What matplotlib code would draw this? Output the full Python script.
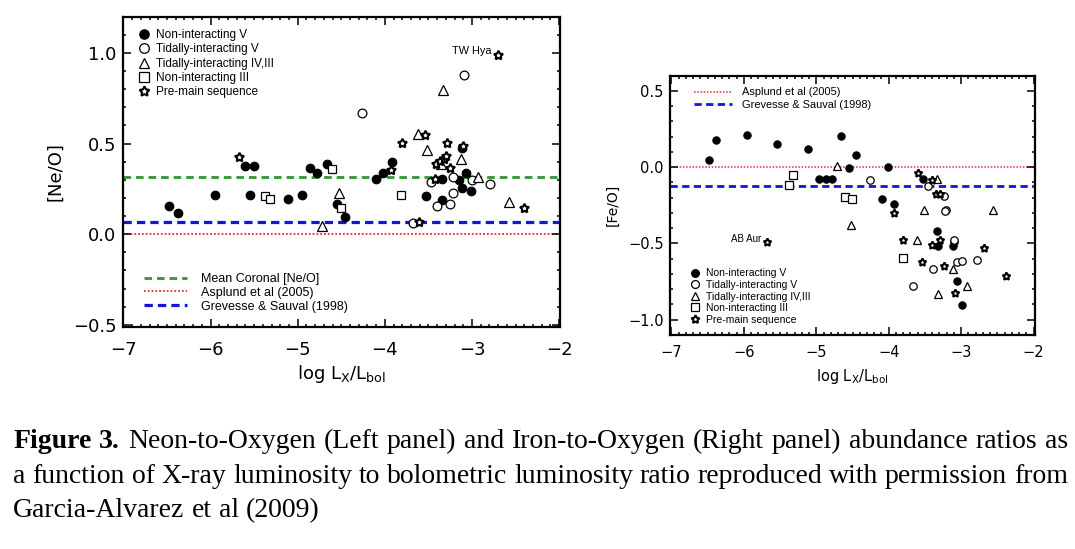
# Ne/O and Fe/O versus log Lx/Lbol, two panels plus caption.

import numpy as np
import matplotlib
matplotlib.use('Agg')
import matplotlib.pyplot as plt
from matplotlib.lines import Line2D
from matplotlib.ticker import MultipleLocator, FuncFormatter

# ---- left panel: [Ne/O] ----
ne_nonint_v_x = [-6.474, -6.374, -5.944, -5.604, -5.505, -5.543, -5.116, -4.952, -4.857, -4.784,
                 -4.666, -4.551, -4.460, -4.098, -4.022, -3.922, -3.531, -3.342, -3.342, -3.110,
                 -3.068, -3.144, -3.114, -3.010]
ne_nonint_v_y = [0.157, 0.117, 0.217, 0.376, 0.376, 0.217, 0.196, 0.217, 0.367, 0.338,
                 0.387, 0.168, 0.097, 0.307, 0.339, 0.396, 0.208, 0.305, 0.186, 0.478,
                 0.339, 0.300, 0.257, 0.239]
ne_tidal_v_x = [-4.260, -3.098, -3.470, -3.219, -2.999, -2.790, -3.219, -3.403, -3.250, -3.678]
ne_tidal_v_y = [0.666, 0.877, 0.287, 0.318, 0.300, 0.278, 0.227, 0.157, 0.167, 0.059]
ne_tidal_iv_x = [-3.335, -3.625, -3.519, -3.354, -3.132, -2.927, -2.580, -4.528, -4.720]
ne_tidal_iv_y = [0.797, 0.555, 0.463, 0.385, 0.414, 0.314, 0.175, 0.227, 0.044]
ne_nonint_iii_x = [-5.379, -5.322, -4.605, -4.509, -3.812]
ne_nonint_iii_y = [0.208, 0.196, 0.358, 0.145, 0.216]
ne_pms_x = [-5.676, -3.926, -3.804, -3.541, -3.286, -3.100, -3.411, -3.365, -3.327, -3.304,
            -3.250, -3.430, -2.404, -3.610, -2.698]
ne_pms_y = [0.427, 0.354, 0.505, 0.545, 0.505, 0.485, 0.389, 0.402, 0.416, 0.431,
            0.367, 0.303, 0.145, 0.068, 0.986]   # last one is TW Hya

mean_coronal_ne = 0.317
asplund_ne = 0.0
grevesse_ne = 0.068

# ---- right panel: [Fe/O] ----
fe_nonint_v_x = [-6.488, -6.387, -5.959, -5.548, -5.115, -4.663, -4.455, -4.552, -4.012, -4.958,
                 -4.866, -4.783, -4.087, -3.921, -3.520, -3.335, -3.326, -3.119, -3.105, -3.058,
                 -2.990]
fe_nonint_v_y = [0.045, 0.180, 0.211, 0.152, 0.121, 0.202, 0.082, -0.008, 0.003, -0.077,
                 -0.077, -0.077, -0.207, -0.239, -0.077, -0.416, -0.515, -0.515, -0.490, -0.744,
                 -0.906]
fe_tidal_v_x = [-4.257, -3.451, -3.243, -3.210, -3.225, -3.100, -3.390, -3.058, -2.990, -2.781, -3.667]
fe_tidal_v_y = [-0.087, -0.121, -0.191, -0.283, -0.290, -0.475, -0.666, -0.624, -0.618, -0.607, -0.777]
fe_tidal_iv_x = [-4.718, -4.524, -3.335, -3.515, -2.560, -3.611, -3.119, -2.920, -3.326]
fe_tidal_iv_y = [0.010, -0.382, -0.075, -0.279, -0.279, -0.475, -0.666, -0.777, -0.830]
fe_nonint_iii_x = [-5.326, -5.378, -4.603, -4.502, -3.805]
fe_nonint_iii_y = [-0.049, -0.119, -0.198, -0.207, -0.595]
fe_pms_x = [-3.921, -3.589, -3.404, -3.344, -3.289, -3.797, -3.404, -3.289, -2.690, -3.534,
            -3.243, -2.380, -3.091, -5.678]
fe_pms_y = [-0.300, -0.038, -0.087, -0.174, -0.174, -0.475, -0.513, -0.475, -0.530, -0.624,
            -0.646, -0.716, -0.825, -0.487]   # last one is AB Aur

asplund_fe = 0.0
grevesse_fe = -0.12

group_labels = ['Non-interacting V', 'Tidally-interacting V', 'Tidally-interacting IV,III',
                'Non-interacting III', 'Pre-main sequence']
line_labels = ['Mean Coronal [Ne/O]', 'Asplund et al (2005)', 'Grevesse & Sauval (1998)']

caption_lines = [
    'Neon-to-Oxygen (Left panel) and Iron-to-Oxygen (Right panel) abundance ratios as',
    'a function of X-ray luminosity to bolometric luminosity ratio reproduced with permission from',
    'Garcia-Alvarez et al (2009)',
]

GREEN = '#3a9a3a'
RED = '#e03030'
BLUE = '#1414d8'
STAR = (5, 1, 0)
LEG_FONT = 'Liberation Sans'


def marker_styles(scale):
    s = scale
    return [
        dict(marker='o', mfc='k', mec='k', ms=6.2 * s, mew=0.8),
        dict(marker='o', mfc='white', mec='k', ms=6.3 * s, mew=0.9),
        dict(marker='^', mfc='white', mec='k', ms=6.8 * s, mew=0.9),
        dict(marker='s', mfc='white', mec='k', ms=6.0 * s, mew=0.9),
        dict(marker=STAR, mfc='white', mec='k', ms=6.8 * s, mew=1.5),
    ]


def fmt1(v, pos):
    if abs(v) < 1e-9:
        v = 0.0
    return ('%.1f' % v).replace('-', '\u2212')


def style_axes(ax, labelsize, xpad, ypad):
    for sp in ax.spines.values():
        sp.set_linewidth(1.6)
    ax.xaxis.set_major_locator(MultipleLocator(1))
    ax.xaxis.set_minor_locator(MultipleLocator(0.1))
    ax.yaxis.set_major_locator(MultipleLocator(0.5))
    ax.yaxis.set_minor_locator(MultipleLocator(0.1))
    ax.yaxis.set_major_formatter(FuncFormatter(fmt1))
    ax.tick_params(which='both', direction='in', top=True, right=True, width=1.1,
                   labelsize=labelsize)
    ax.tick_params(which='major', length=6)
    ax.tick_params(which='minor', length=2.5)
    ax.tick_params(axis='x', pad=xpad)
    ax.tick_params(axis='y', pad=ypad)


fig = plt.figure(figsize=(10.75, 5.49), dpi=100)

# ================= left panel =================
ax1 = fig.add_axes([0.114, 0.405, 0.407, 0.5647])
l_green = ax1.axhline(mean_coronal_ne, color=GREEN, lw=2.1, ls=(0, (2.6, 1.7)), zorder=1)
l_red = ax1.axhline(asplund_ne, color=RED, lw=1.3, ls=(0, (1, 1.1)), zorder=1)
l_blue = ax1.axhline(grevesse_ne, color=BLUE, lw=2.3, ls=(0, (2.6, 1.6)), zorder=1)

ne_groups = [(ne_nonint_v_x, ne_nonint_v_y), (ne_tidal_v_x, ne_tidal_v_y),
             (ne_tidal_iv_x, ne_tidal_iv_y), (ne_nonint_iii_x, ne_nonint_iii_y),
             (ne_pms_x, ne_pms_y)]
for (gx, gy), st in zip(ne_groups, marker_styles(1.0)):
    ax1.plot(gx, gy, ls='none', zorder=3, **st)

ax1.annotate('TW Hya', (ne_pms_x[-1], ne_pms_y[-1]), xytext=(-5, 3), textcoords='offset points',
             ha='right', va='center', fontsize=7.8, family=LEG_FONT)

ax1.set_xlim(-7.01, -1.99)
ax1.set_ylim(-0.51, 1.2)
style_axes(ax1, 13, 10.5, 4.5)
ax1.set_xlabel(r'log L$_\mathrm{X}$/L$_\mathrm{bol}$', fontsize=13, labelpad=3)
ax1.set_ylabel('[Ne/O]', fontsize=13, labelpad=6)

h1 = [Line2D([], [], ls='none', **st) for st in marker_styles(1.1)]
leg1 = ax1.legend(h1, group_labels, loc='upper left', bbox_to_anchor=(0.035, 0.96),
                  frameon=False, borderaxespad=0, borderpad=0, handlelength=1.0,
                  handletextpad=0.55, labelspacing=0.2, numpoints=1,
                  prop=dict(family=LEG_FONT, size=8.5))
ax1.add_artist(leg1)
ax1.legend([l_green, l_red, l_blue], line_labels, loc='lower left',
           bbox_to_anchor=(0.05, 0.045), frameon=False, borderaxespad=0, borderpad=0,
           handlelength=3.4, handletextpad=1.1, labelspacing=0.15,
           prop=dict(family=LEG_FONT, size=9))

# ================= right panel =================
ax2 = fig.add_axes([0.6233, 0.3898, 0.3395, 0.4723])
r_red = ax2.axhline(asplund_fe, color=RED, lw=1.1, ls=(0, (1, 1.1)), zorder=1)
r_blue = ax2.axhline(grevesse_fe, color=BLUE, lw=2.0, ls=(0, (2.6, 1.6)), zorder=1)

fe_groups = [(fe_nonint_v_x, fe_nonint_v_y), (fe_tidal_v_x, fe_tidal_v_y),
             (fe_tidal_iv_x, fe_tidal_iv_y), (fe_nonint_iii_x, fe_nonint_iii_y),
             (fe_pms_x, fe_pms_y)]
for (gx, gy), st in zip(fe_groups, marker_styles(0.85)):
    ax2.plot(gx, gy, ls='none', zorder=3, **st)

ax2.annotate('AB Aur', (fe_pms_x[-1], fe_pms_y[-1]), xytext=(-4, 1.5), textcoords='offset points',
             ha='right', va='center', fontsize=7, family=LEG_FONT)

ax2.set_xlim(-7.02, -1.98)
ax2.set_ylim(-1.1, 0.6)
style_axes(ax2, 10.5, 7, 4.5)
ax2.set_xlabel(r'log L$_\mathrm{X}$/L$_\mathrm{bol}$', fontsize=10.5, labelpad=5)
ax2.set_ylabel('[Fe/O]', fontsize=10, labelpad=6)

leg2 = ax2.legend([r_red, r_blue], line_labels[1:], loc='upper left',
                  bbox_to_anchor=(0.065, 0.955), frameon=False, borderaxespad=0, borderpad=0,
                  handlelength=3.5, handletextpad=0.9, labelspacing=0.2,
                  prop=dict(family=LEG_FONT, size=7.9))
ax2.add_artist(leg2)
h2 = [Line2D([], [], ls='none', **st) for st in marker_styles(0.9)]
ax2.legend(h2, group_labels, loc='lower left', bbox_to_anchor=(0.055, 0.04),
           frameon=False, borderaxespad=0, borderpad=0, handlelength=1.0,
           handletextpad=0.55, labelspacing=0.15, numpoints=1,
           prop=dict(family=LEG_FONT, size=7.5))

# ================= caption (justified word by word) =================
CAP_FONT = 'Liberation Serif'
CAP_SIZE = 20
x_left, x_right = 13.3, 1068.0
baselines = [448.3, 483.3, 517.3]
W, H = fig.get_size_inches() * fig.dpi

fig.canvas.draw()
renderer = fig.canvas.get_renderer()


def word_width(word, weight):
    t = fig.text(0, 0, word, fontsize=CAP_SIZE, family=CAP_FONT, weight=weight)
    w = t.get_window_extent(renderer).width
    t.remove()
    return w


space_w = word_width('a a', 'normal') - 2 * word_width('a', 'normal')

for i, line in enumerate(caption_lines):
    words = [(w, 'normal') for w in line.split(' ')]
    if i == 0:
        words = [('Figure', 'bold'), ('3.', 'bold')] + words
    widths = [word_width(w, wt) for w, wt in words]
    if i < len(caption_lines) - 1:
        gap = (x_right - x_left - sum(widths)) / (len(words) - 1)
    else:
        gap = space_w
    x = x_left
    y = 1 - baselines[i] / H
    for (w, wt), ww in zip(words, widths):
        fig.text(x / W, y, w, fontsize=CAP_SIZE, family=CAP_FONT, weight=wt,
                 ha='left', va='baseline')
        x += ww + gap

fig.savefig('out.png', dpi=100)
